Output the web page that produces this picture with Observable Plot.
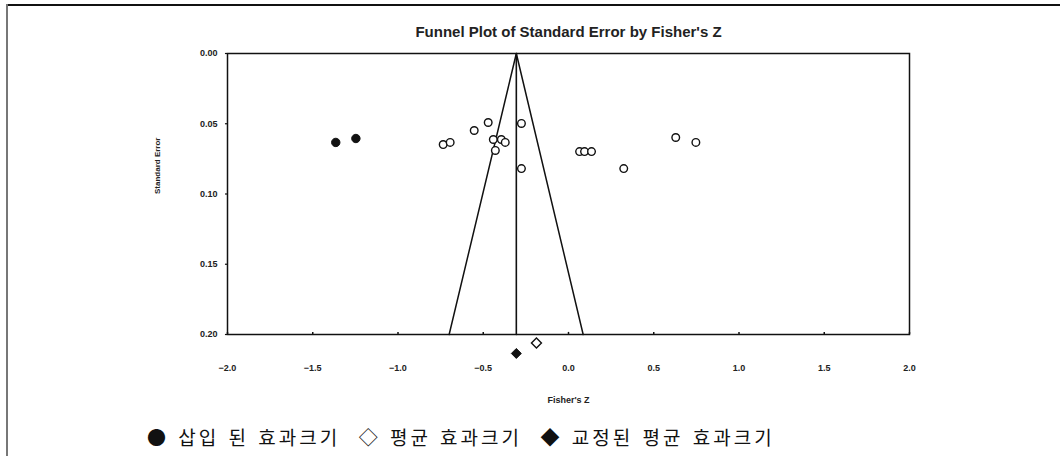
<!DOCTYPE html>
<html>
<head>
<meta charset="utf-8">
<script src="https://cdn.jsdelivr.net/npm/d3@7"></script>
<script src="https://cdn.jsdelivr.net/npm/@observablehq/plot@0.6"></script>
<style>
  html, body { margin: 0; padding: 0; background: #fff; }
  #wrap { position: relative; width: 1060px; height: 456px; overflow: hidden; }
  #topline { position: absolute; left: 7px; top: 4px; width: 1060px; height: 2px; background: #111; }
  #leftline { position: absolute; left: 6px; top: 4px; width: 2px; height: 460px; background: #777; }
  #chart { position: absolute; left: 0; top: 0; }
  #caption { position: absolute; left: 147px; top: 423px; font-family: "Noto Sans CJK KR", sans-serif; font-size: 19px; letter-spacing: 3px; word-spacing: 2px; color: #111; white-space: pre; }
</style>
</head>
<body>
<div id="wrap">
  <div id="chart"></div>
  <div id="topline"></div>
  <div id="leftline"></div>
  <div id="caption">● 삽입 된 효과크기  ◇ 평균 효과크기  ◆ 교정된 평균 효과크기</div>
</div>
<script>
// Observed studies (open circles)
const obsZ  = [-0.735, -0.694, -0.553, -0.471, -0.441, -0.394, -0.371, -0.429, -0.276, -0.276, 0.065, 0.094, 0.135, 0.324, 0.629, 0.747];
const obsSE = [0.0648, 0.0633, 0.0548, 0.0491, 0.0612, 0.0612, 0.0633, 0.0690, 0.0498, 0.0819, 0.0698, 0.0698, 0.0698, 0.0819, 0.0598, 0.0633];
// Imputed studies (filled circles)
const impZ  = [-1.365, -1.247];
const impSE = [0.0633, 0.0605];
// Mean effect (open diamond) and adjusted mean (filled diamond)
const meanZ = -0.188, meanSE = 0.206;
const adjZ = -0.306, adjSE = 0.2135;
// Funnel lines
const funnelZ  = [-0.70, -0.306, 0.086];
const funnelSE = [0.20, 0.0, 0.20];
const centerZ  = [-0.306, -0.306];
const centerSE = [0.0, 0.20];
// Tick labels
const xTicks = [-2.0, -1.5, -1.0, -0.5, 0.0, 0.5, 1.0, 1.5, 2.0];
const yTicks = [0.00, 0.05, 0.10, 0.15, 0.20];

const obs = obsZ.map((z, i) => ({z, se: obsSE[i]}));
const imp = impZ.map((z, i) => ({z, se: impSE[i]}));
const funnel = funnelZ.map((z, i) => ({z, se: funnelSE[i]}));
const center = centerZ.map((z, i) => ({z, se: centerSE[i]}));

const font = "Liberation Sans, Arial, sans-serif";

const chart = Plot.plot({
  width: 1060,
  height: 420,
  marginLeft: 227,
  marginRight: 151,
  marginTop: 53,
  marginBottom: 86,
  style: { fontFamily: font, background: "transparent", overflow: "visible" },
  x: { domain: [-2, 2] },
  y: { domain: [0, 0.2], reverse: true },
  marks: [
    Plot.frame({ stroke: "#111", strokeWidth: 1.5 }),
    Plot.axisX({ ticks: xTicks, tickFormat: d3.format(".1f"), tickSize: 0, tickPadding: 30, label: null, fontSize: 9, fontWeight: "bold", fill: "#222", style: { letterSpacing: "0.8px" } }),
    Plot.axisY({ ticks: yTicks, tickFormat: d3.format(".2f"), tickSize: 0, tickPadding: 10, label: null, fontSize: 9, fontWeight: "bold", fill: "#222", style: { letterSpacing: "0.6px" } }),
    Plot.ruleX(xTicks, { x: d => d, y1: 0.2, y2: 0.1985, stroke: "#111", strokeWidth: 1.5 }),
    Plot.ruleY(yTicks, { y: d => d, x1: -2, x2: -2.012, stroke: "#111", strokeWidth: 1.2 }),
    Plot.line(funnel, { x: "z", y: "se", stroke: "#111", strokeWidth: 1.5 }),
    Plot.line(center, { x: "z", y: "se", stroke: "#111", strokeWidth: 1.6 }),
    Plot.dot(obs, { x: "z", y: "se", r: 3.8, stroke: "#111", strokeWidth: 1.4, fill: "white" }),
    Plot.dot(imp, { x: "z", y: "se", r: 4.2, stroke: "#111", strokeWidth: 1, fill: "#111" }),
    Plot.dot([{z: meanZ, se: meanSE}], { x: "z", y: "se", symbol: "diamond2", r: 4.5, stroke: "#111", strokeWidth: 1.4, fill: "white" }),
    Plot.dot([{z: adjZ, se: adjSE}], { x: "z", y: "se", symbol: "diamond2", r: 4.5, stroke: "#111", strokeWidth: 1, fill: "#111" }),
    Plot.text(["Funnel Plot of Standard Error by Fisher's Z"], { frameAnchor: "top", dy: -27, fontSize: 15, fontWeight: "bold", fill: "#222", style: { letterSpacing: "3.4px" } }),
    Plot.text(["Standard Error"], { frameAnchor: "left", dx: -70, rotate: -90, fontSize: 8, fontWeight: "bold", fill: "#222", style: { letterSpacing: "0.8px" } }),
    Plot.text(["Fisher's Z"], { frameAnchor: "bottom", dy: 68, fontSize: 9, fontWeight: "bold", fill: "#222", style: { letterSpacing: "1px" } })
  ]
});
document.getElementById("chart").appendChild(chart);
</script>
</body>
</html>
